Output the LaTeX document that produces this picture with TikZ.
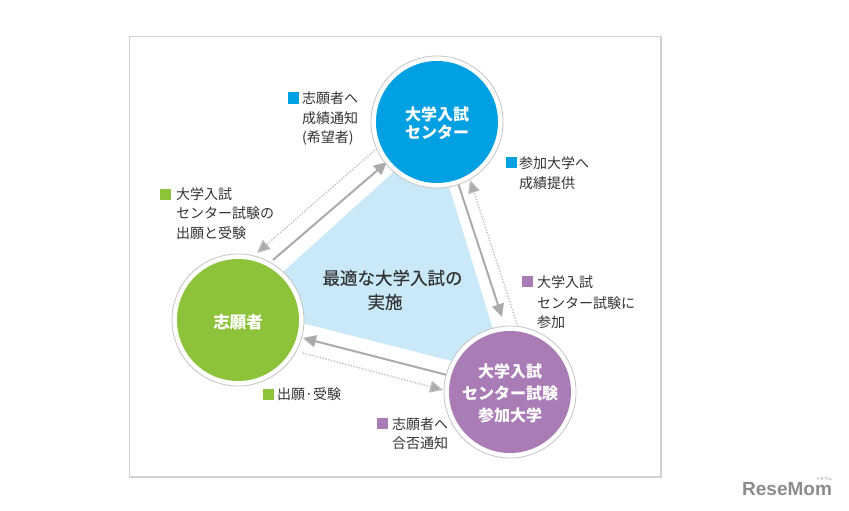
\documentclass[tikz,border=0pt]{standalone}
\usepackage{fontspec}
\setmainfont{Noto Sans CJK JP}
\newfontfamily\midfont{Noto Sans CJK JP}[FakeBold=0.3]
\newfontfamily\logofont{Liberation Sans}
\usetikzlibrary{arrows.meta}
\definecolor{cblue}{HTML}{00A0E3}
\definecolor{cgreen}{HTML}{8DC33B}
\definecolor{cpurple}{HTML}{A97CB6}
\definecolor{tri}{HTML}{C9E8F8}
\definecolor{arr}{HTML}{ABABAB}
\definecolor{arrdot}{HTML}{BDBDBD}
\definecolor{ring}{HTML}{C4C4C4}
\definecolor{framec}{HTML}{D2D2D2}
\definecolor{txt}{HTML}{333333}
\definecolor{logoc}{HTML}{8C8C8C}
\tikzset{
  solidarr/.style={draw=arr, line width=2pt, -{Triangle[length=13pt,width=12pt]}},
  dotarr/.style={draw=arrdot, line width=1.3pt, dash pattern=on 1.3pt off 1.6pt, -{Triangle[length=13pt,width=12pt,fill=arr]}},
  lbl/.style={font=\fontsize{14pt}{19.5pt}\selectfont, text=txt, inner sep=0pt, anchor=base west},
  sq/.style={minimum size=11pt, inner sep=0pt},
  outerc/.style={circle, minimum size=132pt, inner sep=0pt, fill=white, draw=ring, line width=0.8pt},
  innerc/.style={circle, minimum size=122pt, inner sep=0pt},
  ctext/.style={text=white, font=\bfseries\fontsize{16pt}{19pt}\selectfont, inner sep=0pt, anchor=base},
  midtext/.style={text=txt, font=\midfont\fontsize{17.5pt}{24pt}\selectfont, inner sep=0pt, anchor=base}
}
\begin{document}
\begin{tikzpicture}[x=1pt,y=-1pt]
\useasboundingbox (0,0) rectangle (849,511);
\fill[white] (0,0) rectangle (849,511);
% frame
\draw[framec, line width=1.2pt] (129.5,36.5) rectangle (661,477);
% central triangle
\fill[tri] (243,308) -- (433.5,136) -- (507,375) -- cycle;
% arrow end points
\coordinate (a1s) at (273,260); \coordinate (a1e) at (387,162);
\coordinate (a2s) at (375,150); \coordinate (a2e) at (257,253);
\coordinate (a3s) at (458,183); \coordinate (a3e) at (502,317);
\coordinate (a4s) at (518,327); \coordinate (a4e) at (470,180);
\coordinate (a5s) at (447,375); \coordinate (a5e) at (303,338);
\coordinate (a6s) at (303,353); \coordinate (a6e) at (443,390);
\draw[solidarr] (a1s) -- (a1e);
\draw[dotarr] (a2s) -- (a2e);
\draw[solidarr] (a3s) -- (a3e);
\draw[dotarr] (a4s) -- (a4e);
\draw[solidarr] (a5s) -- (a5e);
\draw[dotarr] (a6s) -- (a6e);
% circles
\node[outerc] (blueO) at (437,122) {};
\node[innerc, fill=cblue] (blue) at (437,122) {};
\node[outerc] (greenO) at (238,320) {};
\node[innerc, fill=cgreen] (green) at (238,320) {};
\node[outerc] (purpleO) at (510,392) {};
\node[innerc, fill=cpurple] (purple) at (510,392) {};
% circle texts
\node[ctext] (b1) at (437,120) {大学入試};
\node[ctext] (b2) at (437,139) {センター};
\node[ctext, font=\bfseries\fontsize{16.5pt}{19pt}\selectfont] (g1) at (238,328.3) {志願者};
\node[ctext] (p1) at (510,377) {大学入試};
\node[ctext] (p2) at (510,399) {センター試験};
\node[ctext] (p3) at (510,421) {参加大学};
% central text
\node[midtext] (m1) at (392.5,284.6) {最適な大学入試の};
\node[midtext] (m2) at (385,308.6) {実施};
% labels
\node[sq, fill=cblue] (sq1) at (293,98) {};
\node[lbl] (l1a) at (302,103.3) {志願者へ};
\node[lbl] (l1b) at (302,123) {成績通知};
\node[lbl] (l1c) at (302,142.5) {(希望者)};
\node[sq, fill=cblue] (sq2) at (511,162.5) {};
\node[lbl] (l2a) at (519,168.3) {参加大学へ};
\node[lbl] (l2b) at (519,188.3) {成績提供};
\node[sq, fill=cgreen] (sq3) at (165,194) {};
\node[lbl] (l3a) at (176,199.3) {大学入試};
\node[lbl] (l3b) at (176,218.3) {センター試験の};
\node[lbl] (l3c) at (176,238.3) {出願と受験};
\node[sq, fill=cgreen] (sq4) at (268,394) {};
\node[lbl] (l4a) at (277,399.3) {出願·受験};
\node[sq, fill=cpurple] (sq5) at (382,423) {};
\node[lbl] (l5a) at (392,429.3) {志願者へ};
\node[lbl] (l5b) at (392,448.3) {合否通知};
\node[sq, fill=cpurple] (sq6) at (527.5,281) {};
\node[lbl] (l6a) at (537,287.3) {大学入試};
\node[lbl] (l6b) at (537,308.3) {センター試験に};
\node[lbl] (l6c) at (537,327.3) {参加};
% logo
\node[anchor=base west, inner sep=0pt, text=logoc, font=\logofont\bfseries\fontsize{19pt}{19pt}\selectfont] (logo) at (742,495.8) {ReseMom};
\node[inner sep=0pt, text=logoc, font=\fontsize{4pt}{4pt}\selectfont] (logok) at (824,479) {リセマム};
\end{tikzpicture}
\end{document}
